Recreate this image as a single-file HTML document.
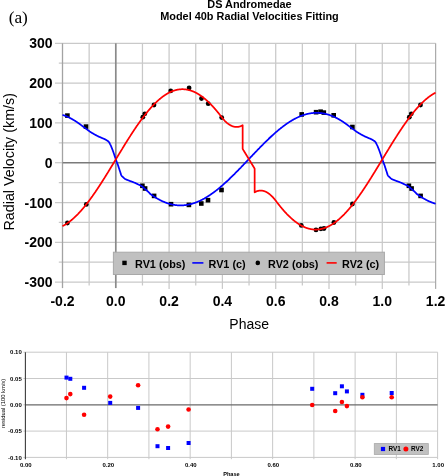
<!DOCTYPE html>
<html><head><meta charset="utf-8"><style>
html,body{margin:0;padding:0;background:#fff;}
svg{display:block;filter:blur(0.35px);}
text{font-family:"Liberation Sans",sans-serif;fill:#000;}
.tk{font-size:14px;font-weight:bold;}
.ax{font-size:14px;}
.ayt{font-size:14.3px;}
.ti{font-size:10.9px;font-weight:bold;}
.lg{font-size:10.85px;font-weight:bold;}
.pa{font-family:"Liberation Serif",serif;font-size:17.3px;}
.rt{font-size:6px;font-weight:bold;}
.rl{font-size:6.4px;font-weight:bold;}
.rax{font-size:5.6px;font-weight:bold;}
.ray{font-size:5.8px;}
</style></head><body>
<svg width="445" height="476" viewBox="0 0 445 476">
<rect width="445" height="476" fill="#fff"/>
<line x1="55.00" y1="282.10" x2="435.60" y2="282.10" stroke="#c9c9c9" stroke-width="1.25"/>
<line x1="58.80" y1="262.20" x2="435.60" y2="262.20" stroke="#c9c9c9" stroke-width="1.25"/>
<line x1="55.00" y1="242.30" x2="435.60" y2="242.30" stroke="#c9c9c9" stroke-width="1.25"/>
<line x1="58.80" y1="222.40" x2="435.60" y2="222.40" stroke="#c9c9c9" stroke-width="1.25"/>
<line x1="55.00" y1="202.50" x2="435.60" y2="202.50" stroke="#c9c9c9" stroke-width="1.25"/>
<line x1="58.80" y1="182.60" x2="435.60" y2="182.60" stroke="#c9c9c9" stroke-width="1.25"/>
<line x1="58.80" y1="142.80" x2="435.60" y2="142.80" stroke="#c9c9c9" stroke-width="1.25"/>
<line x1="55.00" y1="122.90" x2="435.60" y2="122.90" stroke="#c9c9c9" stroke-width="1.25"/>
<line x1="58.80" y1="103.00" x2="435.60" y2="103.00" stroke="#c9c9c9" stroke-width="1.25"/>
<line x1="55.00" y1="83.10" x2="435.60" y2="83.10" stroke="#c9c9c9" stroke-width="1.25"/>
<line x1="58.80" y1="63.20" x2="435.60" y2="63.20" stroke="#c9c9c9" stroke-width="1.25"/>
<line x1="55.00" y1="43.30" x2="435.60" y2="43.30" stroke="#c9c9c9" stroke-width="1.25"/>
<line x1="89.15" y1="43.30" x2="89.15" y2="285.50" stroke="#c9c9c9" stroke-width="1.25"/>
<line x1="142.45" y1="43.30" x2="142.45" y2="285.50" stroke="#c9c9c9" stroke-width="1.25"/>
<line x1="169.10" y1="43.30" x2="169.10" y2="288.90" stroke="#c9c9c9" stroke-width="1.25"/>
<line x1="195.75" y1="43.30" x2="195.75" y2="285.50" stroke="#c9c9c9" stroke-width="1.25"/>
<line x1="222.40" y1="43.30" x2="222.40" y2="288.90" stroke="#c9c9c9" stroke-width="1.25"/>
<line x1="249.05" y1="43.30" x2="249.05" y2="285.50" stroke="#c9c9c9" stroke-width="1.25"/>
<line x1="275.70" y1="43.30" x2="275.70" y2="288.90" stroke="#c9c9c9" stroke-width="1.25"/>
<line x1="302.35" y1="43.30" x2="302.35" y2="285.50" stroke="#c9c9c9" stroke-width="1.25"/>
<line x1="329.00" y1="43.30" x2="329.00" y2="288.90" stroke="#c9c9c9" stroke-width="1.25"/>
<line x1="355.65" y1="43.30" x2="355.65" y2="285.50" stroke="#c9c9c9" stroke-width="1.25"/>
<line x1="382.30" y1="43.30" x2="382.30" y2="288.90" stroke="#c9c9c9" stroke-width="1.25"/>
<line x1="408.95" y1="43.30" x2="408.95" y2="285.50" stroke="#c9c9c9" stroke-width="1.25"/>
<line x1="435.60" y1="43.30" x2="435.60" y2="288.90" stroke="#ababab" stroke-width="1.25"/>
<line x1="62.50" y1="43.30" x2="62.50" y2="288.10" stroke="#a3a3a3" stroke-width="1.3"/>
<line x1="55.00" y1="162.70" x2="62.50" y2="162.70" stroke="#c9c9c9" stroke-width="1.25"/>
<line x1="62.50" y1="162.70" x2="435.60" y2="162.70" stroke="#7a7a7a" stroke-width="1.5"/>
<line x1="115.80" y1="43.30" x2="115.80" y2="288.10" stroke="#8a8a8a" stroke-width="1.7"/>
<rect x="140.10" y="183.50" width="4.6" height="4.6" fill="#000"/>
<rect x="142.80" y="186.20" width="4.6" height="4.6" fill="#000"/>
<rect x="151.80" y="193.60" width="4.6" height="4.6" fill="#000"/>
<rect x="168.70" y="201.90" width="4.6" height="4.6" fill="#000"/>
<rect x="186.60" y="202.60" width="4.6" height="4.6" fill="#000"/>
<rect x="199.00" y="201.20" width="4.6" height="4.6" fill="#000"/>
<rect x="205.70" y="197.90" width="4.6" height="4.6" fill="#000"/>
<rect x="219.20" y="187.70" width="4.6" height="4.6" fill="#000"/>
<rect x="299.40" y="112.10" width="4.6" height="4.6" fill="#000"/>
<rect x="313.80" y="109.90" width="4.6" height="4.6" fill="#000"/>
<rect x="318.30" y="109.40" width="4.6" height="4.6" fill="#000"/>
<rect x="321.50" y="110.30" width="4.6" height="4.6" fill="#000"/>
<rect x="331.40" y="113.00" width="4.6" height="4.6" fill="#000"/>
<rect x="350.10" y="124.70" width="4.6" height="4.6" fill="#000"/>
<rect x="65.10" y="113.30" width="4.6" height="4.6" fill="#000"/>
<rect x="83.70" y="124.30" width="4.6" height="4.6" fill="#000"/>
<rect x="406.60" y="183.50" width="4.6" height="4.6" fill="#000"/>
<rect x="409.30" y="186.20" width="4.6" height="4.6" fill="#000"/>
<rect x="418.30" y="193.60" width="4.6" height="4.6" fill="#000"/>
<circle cx="142.80" cy="117.20" r="2.4" fill="#000"/>
<circle cx="144.80" cy="113.80" r="2.4" fill="#000"/>
<circle cx="154.00" cy="105.00" r="2.4" fill="#000"/>
<circle cx="170.70" cy="90.90" r="2.4" fill="#000"/>
<circle cx="189.10" cy="88.00" r="2.4" fill="#000"/>
<circle cx="201.50" cy="98.50" r="2.4" fill="#000"/>
<circle cx="208.20" cy="103.70" r="2.4" fill="#000"/>
<circle cx="221.70" cy="117.60" r="2.4" fill="#000"/>
<circle cx="301.30" cy="225.40" r="2.4" fill="#000"/>
<circle cx="316.00" cy="229.90" r="2.4" fill="#000"/>
<circle cx="320.90" cy="228.80" r="2.4" fill="#000"/>
<circle cx="324.00" cy="228.50" r="2.4" fill="#000"/>
<circle cx="333.90" cy="222.50" r="2.4" fill="#000"/>
<circle cx="352.40" cy="204.00" r="2.4" fill="#000"/>
<circle cx="67.40" cy="223.00" r="2.4" fill="#000"/>
<circle cx="86.30" cy="204.40" r="2.4" fill="#000"/>
<circle cx="409.30" cy="117.20" r="2.4" fill="#000"/>
<circle cx="411.30" cy="113.80" r="2.4" fill="#000"/>
<circle cx="420.50" cy="105.00" r="2.4" fill="#000"/>
<path d="M62.50,114.86L62.77,114.95L63.03,115.03L63.30,115.13L63.57,115.22L63.83,115.31L64.10,115.41L64.37,115.51L64.63,115.61L64.90,115.71L65.16,115.81L65.43,115.92L65.70,116.02L65.96,116.13L66.23,116.24L66.50,116.35L66.76,116.47L67.03,116.58L67.30,116.70L67.56,116.82L67.83,116.94L68.10,117.06L68.36,117.19L68.63,117.32L68.90,117.44L69.16,117.57L69.43,117.71L69.70,117.84L69.96,117.97L70.23,118.11L70.50,118.25L70.76,118.39L71.03,118.53L71.29,118.67L71.56,118.82L71.83,118.97L72.09,119.11L72.36,119.26L72.63,119.42L72.89,119.57L73.16,119.72L73.43,119.88L73.69,120.04L73.96,120.20L74.23,120.36L74.49,120.53L74.76,120.69L75.03,120.86L75.29,121.03L75.56,121.20L75.82,121.37L76.09,121.54L76.36,121.71L76.62,121.89L76.89,122.07L77.16,122.25L77.42,122.43L77.69,122.61L77.96,122.79L78.22,122.98L78.49,123.17L78.76,123.36L79.02,123.55L79.29,123.74L79.56,123.93L79.82,124.12L80.09,124.32L80.36,124.52L80.62,124.72L80.89,124.92L81.16,125.12L81.42,125.32L81.69,125.52L81.95,125.72L82.22,125.92L82.49,126.12L82.75,126.32L83.02,126.52L83.29,126.72L83.55,126.92L83.82,127.11L84.09,127.31L84.35,127.51L84.62,127.70L84.89,127.90L85.15,128.10L85.42,128.29L85.69,128.49L85.95,128.68L86.22,128.88L86.48,129.08L86.75,129.28L87.02,129.47L87.28,129.67L87.55,129.87L87.82,130.07L88.08,130.27L88.35,130.47L88.62,130.67L88.88,130.87L89.15,131.07L89.42,131.27L89.68,131.46L89.95,131.64L90.22,131.82L90.48,132.00L90.75,132.17L91.02,132.34L91.28,132.50L91.55,132.66L91.81,132.82L92.08,132.98L92.35,133.14L92.61,133.29L92.88,133.45L93.15,133.60L93.41,133.76L93.68,133.92L93.95,134.08L94.21,134.23L94.48,134.39L94.75,134.54L95.01,134.69L95.28,134.83L95.55,134.98L95.81,135.12L96.08,135.26L96.35,135.40L96.61,135.54L96.88,135.68L97.14,135.81L97.41,135.95L97.68,136.08L97.94,136.22L98.21,136.35L98.48,136.48L98.74,136.60L99.01,136.72L99.28,136.84L99.54,136.95L99.81,137.07L100.08,137.18L100.34,137.29L100.61,137.40L100.88,137.52L101.14,137.63L101.41,137.74L101.68,137.86L101.94,137.98L102.21,138.10L102.47,138.22L102.74,138.33L103.01,138.44L103.27,138.55L103.54,138.66L103.81,138.77L104.07,138.88L104.34,139.00L104.61,139.12L104.87,139.25L105.14,139.38L105.41,139.52L105.67,139.67L105.94,139.83L106.21,140.00L106.47,140.16L106.74,140.32L107.01,140.48L107.27,140.64L107.54,140.82L107.80,141.01L108.07,141.21L108.34,141.44L108.60,141.70L108.87,141.99L109.14,142.36L109.40,142.79L109.67,143.28L109.94,143.81L110.20,144.35L110.47,144.88L110.74,145.43L111.00,146.02L111.27,146.64L111.54,147.29L111.80,147.95L112.07,148.64L112.34,149.32L112.60,150.02L112.87,150.73L113.13,151.47L113.40,152.23L113.67,153.00L113.93,153.79L114.20,154.58L114.47,155.38L114.73,156.18L115.00,156.98L115.27,157.78L115.53,158.56L115.80,159.33L116.07,160.08L116.33,160.81L116.60,161.52L116.87,162.23L117.13,162.93L117.40,163.63L117.67,164.34L117.93,165.07L118.20,165.83L118.46,166.62L118.73,167.43L119.00,168.25L119.26,169.08L119.53,169.91L119.80,170.73L120.06,171.52L120.33,172.35L120.60,173.26L120.86,174.13L121.13,174.90L121.40,175.46L121.66,175.78L121.93,176.07L122.20,176.35L122.46,176.62L122.73,176.89L123.00,177.16L123.26,177.42L123.53,177.68L123.80,177.93L124.06,178.18L124.33,178.43L124.59,178.65L124.86,178.84L125.13,179.01L125.39,179.17L125.66,179.30L125.93,179.42L126.19,179.53L126.46,179.63L126.73,179.73L126.99,179.82L127.26,179.91L127.53,180.01L127.79,180.11L128.06,180.22L128.33,180.33L128.59,180.45L128.86,180.56L129.12,180.66L129.39,180.76L129.66,180.86L129.92,180.96L130.19,181.06L130.46,181.15L130.72,181.24L130.99,181.34L131.26,181.43L131.52,181.52L131.79,181.61L132.06,181.71L132.32,181.81L132.59,181.91L132.86,182.01L133.12,182.11L133.39,182.22L133.66,182.33L133.92,182.45L134.19,182.56L134.45,182.68L134.72,182.80L134.99,182.91L135.25,183.03L135.52,183.15L135.79,183.27L136.05,183.40L136.32,183.52L136.59,183.65L136.85,183.78L137.12,183.91L137.39,184.04L137.65,184.18L137.92,184.31L138.19,184.44L138.45,184.56L138.72,184.68L138.99,184.79L139.25,184.91L139.52,185.02L139.78,185.14L140.05,185.26L140.32,185.38L140.58,185.52L140.85,185.66L141.12,185.81L141.38,185.97L141.65,186.15L141.92,186.34L142.18,186.54L142.45,186.77L142.72,187.00L142.98,187.24L143.25,187.47L143.52,187.70L143.78,187.93L144.05,188.16L144.32,188.39L144.58,188.62L144.85,188.85L145.12,189.08L145.38,189.32L145.65,189.55L145.91,189.78L146.18,190.02L146.45,190.25L146.71,190.49L146.98,190.73L147.25,190.97L147.51,191.21L147.78,191.46L148.05,191.71L148.31,191.96L148.58,192.21L148.85,192.47L149.11,192.73L149.38,192.99L149.65,193.25L149.91,193.52L150.18,193.80L150.44,194.08L150.71,194.27L150.98,194.46L151.24,194.65L151.51,194.84L151.78,195.03L152.04,195.21L152.31,195.40L152.58,195.58L152.84,195.76L153.11,195.94L153.38,196.12L153.64,196.30L153.91,196.47L154.18,196.65L154.44,196.82L154.71,196.99L154.98,197.16L155.24,197.33L155.51,197.49L155.77,197.66L156.04,197.82L156.31,197.98L156.57,198.14L156.84,198.30L157.11,198.45L157.37,198.61L157.64,198.76L157.91,198.91L158.17,199.06L158.44,199.21L158.71,199.36L158.97,199.50L159.24,199.64L159.51,199.79L159.77,199.93L160.04,200.06L160.31,200.20L160.57,200.34L160.84,200.47L161.10,200.60L161.37,200.73L161.64,200.86L161.90,200.98L162.17,201.11L162.44,201.23L162.70,201.35L162.97,201.47L163.24,201.59L163.50,201.70L163.77,201.82L164.04,201.93L164.30,202.04L164.57,202.15L164.84,202.26L165.10,202.36L165.37,202.47L165.64,202.57L165.90,202.67L166.17,202.77L166.44,202.86L166.70,202.96L166.97,203.05L167.23,203.14L167.50,203.23L167.77,203.32L168.03,203.41L168.30,203.49L168.57,203.57L168.83,203.65L169.10,203.73L169.37,203.81L169.63,203.88L169.90,203.96L170.17,204.03L170.43,204.10L170.70,204.17L170.97,204.23L171.23,204.30L171.50,204.36L171.76,204.42L172.03,204.48L172.30,204.54L172.56,204.59L172.83,204.65L173.10,204.70L173.36,204.75L173.63,204.79L173.90,204.84L174.16,204.89L174.43,204.93L174.70,204.97L174.96,205.01L175.23,205.04L175.50,205.08L175.76,205.11L176.03,205.15L176.30,205.17L176.56,205.20L176.83,205.23L177.09,205.25L177.36,205.28L177.63,205.30L177.89,205.32L178.16,205.33L178.43,205.35L178.69,205.36L178.96,205.37L179.23,205.38L179.49,205.39L179.76,205.40L180.03,205.40L180.29,205.40L180.56,205.40L180.83,205.40L181.09,205.40L181.36,205.40L181.63,205.39L181.89,205.38L182.16,205.37L182.43,205.36L182.69,205.35L182.96,205.33L183.22,205.31L183.49,205.29L183.76,205.27L184.02,205.25L184.29,205.22L184.56,205.20L184.82,205.17L185.09,205.14L185.36,205.11L185.62,205.08L185.89,205.04L186.16,205.00L186.42,204.96L186.69,204.92L186.96,204.88L187.22,204.84L187.49,204.79L187.75,204.74L188.02,204.69L188.29,204.64L188.55,204.59L188.82,204.54L189.09,204.48L189.35,204.42L189.62,204.36L189.89,204.30L190.15,204.24L190.42,204.17L190.69,204.11L190.95,204.04L191.22,203.97L191.49,203.89L191.75,203.82L192.02,203.75L192.29,203.67L192.55,203.59L192.82,203.51L193.08,203.43L193.35,203.34L193.62,203.26L193.88,203.17L194.15,203.08L194.42,202.99L194.68,202.90L194.95,202.81L195.22,202.71L195.48,202.61L195.75,202.51L196.02,202.41L196.28,202.31L196.55,202.21L196.82,202.10L197.08,202.00L197.35,201.89L197.62,201.78L197.88,201.67L198.15,201.55L198.41,201.44L198.68,201.32L198.95,201.20L199.21,201.08L199.48,200.96L199.75,200.84L200.01,200.71L200.28,200.59L200.55,200.46L200.81,200.33L201.08,200.20L201.35,200.07L201.61,199.94L201.88,199.80L202.15,199.66L202.41,199.53L202.68,199.39L202.95,199.24L203.21,199.10L203.48,198.96L203.75,198.81L204.01,198.66L204.28,198.52L204.54,198.37L204.81,198.21L205.08,198.06L205.34,197.91L205.61,197.75L205.88,197.59L206.14,197.44L206.41,197.27L206.68,197.11L206.94,196.95L207.21,196.79L207.48,196.62L207.74,196.45L208.01,196.28L208.28,196.11L208.54,195.94L208.81,195.77L209.07,195.60L209.34,195.42L209.61,195.24L209.87,195.07L210.14,194.89L210.41,194.71L210.67,194.52L210.94,194.34L211.21,194.16L211.47,193.97L211.74,193.78L212.01,193.60L212.27,193.41L212.54,193.22L212.81,193.02L213.07,192.83L213.34,192.64L213.61,192.44L213.87,192.24L214.14,192.04L214.40,191.84L214.67,191.64L214.94,191.44L215.20,191.24L215.47,191.04L215.74,190.83L216.00,190.62L216.27,190.42L216.54,190.21L216.80,190.00L217.07,189.79L217.34,189.57L217.60,189.36L217.87,189.15L218.14,188.93L218.40,188.71L218.67,188.50L218.94,188.28L219.20,188.06L219.47,187.84L219.73,187.62L220.00,187.39L220.27,187.17L220.53,186.94L220.80,186.72L221.07,186.49L221.33,186.26L221.60,186.03L221.87,185.80L222.13,185.57L222.40,185.34L222.67,185.11L222.93,184.87L223.20,184.64L223.47,184.40L223.73,184.17L224.00,183.93L224.27,183.69L224.53,183.45L224.80,183.21L225.06,182.97L225.33,182.73L225.60,182.49L225.86,182.24L226.13,182.00L226.40,181.76L226.66,181.51L226.93,181.26L227.20,181.02L227.46,180.77L227.73,180.52L228.00,180.27L228.26,180.02L228.53,179.77L228.80,179.51L229.06,179.26L229.33,179.01L229.60,178.75L229.86,178.50L230.13,178.24L230.39,177.99L230.66,177.73L230.93,177.47L231.19,177.21L231.46,176.95L231.73,176.69L231.99,176.43L232.26,176.17L232.53,175.91L232.79,175.65L233.06,175.39L233.33,175.12L233.59,174.86L233.86,174.59L234.13,174.33L234.39,174.06L234.66,173.80L234.93,173.53L235.19,173.26L235.46,172.99L235.72,172.73L235.99,172.46L236.26,172.19L236.52,171.92L236.79,171.65L237.06,171.38L237.32,171.11L237.59,170.84L237.86,170.56L238.12,170.29L238.39,170.02L238.66,169.74L238.92,169.47L239.19,169.20L239.46,168.92L239.72,168.65L239.99,168.37L240.26,168.10L240.52,167.82L240.79,167.55L241.05,167.27L241.32,166.99L241.59,166.72L241.85,166.44L242.12,166.16L242.39,165.88L242.65,165.61L242.92,165.33L243.19,165.05L243.45,164.77L243.72,164.49L243.99,164.21L244.25,163.93L244.52,163.65L244.79,163.38L245.05,163.10L245.32,162.82L245.59,162.54L245.85,162.26L246.12,161.98L246.38,161.69L246.65,161.41L246.92,161.13L247.18,160.85L247.45,160.57L247.72,160.29L247.98,160.01L248.25,159.73L248.52,159.45L248.78,159.17L249.05,158.89L249.32,158.61L249.58,158.32L249.85,158.04L250.12,157.76L250.38,157.48L250.65,157.20L250.92,156.92L251.18,156.64L251.45,156.36L251.71,156.08L251.98,155.80L252.25,155.52L252.51,155.24L252.78,154.96L253.05,154.68L253.31,154.40L253.58,154.12L253.85,153.84L254.11,153.56L254.38,153.28L254.65,153.00L254.91,152.72L255.18,152.44L255.45,152.17L255.71,151.89L255.98,151.61L256.25,151.33L256.51,151.05L256.78,150.78L257.04,150.50L257.31,150.22L257.58,149.95L257.84,149.67L258.11,149.40L258.38,149.12L258.64,148.85L258.91,148.57L259.18,148.30L259.44,148.02L259.71,147.75L259.98,147.48L260.24,147.21L260.51,146.93L260.78,146.66L261.04,146.39L261.31,146.12L261.58,145.85L261.84,145.58L262.11,145.31L262.38,145.04L262.64,144.77L262.91,144.51L263.17,144.24L263.44,143.97L263.71,143.70L263.97,143.44L264.24,143.17L264.51,142.91L264.77,142.64L265.04,142.38L265.31,142.12L265.57,141.86L265.84,141.59L266.11,141.33L266.37,141.07L266.64,140.81L266.91,140.55L267.17,140.29L267.44,140.04L267.71,139.78L267.97,139.52L268.24,139.27L268.50,139.01L268.77,138.76L269.04,138.50L269.30,138.25L269.57,138.00L269.84,137.75L270.10,137.50L270.37,137.25L270.64,137.00L270.90,136.75L271.17,136.50L271.44,136.26L271.70,136.01L271.97,135.76L272.24,135.52L272.50,135.28L272.77,135.03L273.04,134.79L273.30,134.55L273.57,134.31L273.83,134.07L274.10,133.84L274.37,133.60L274.63,133.36L274.90,133.13L275.17,132.89L275.43,132.66L275.70,132.43L275.97,132.19L276.23,131.96L276.50,131.73L276.77,131.51L277.03,131.28L277.30,131.05L277.57,130.83L277.83,130.60L278.10,130.38L278.37,130.16L278.63,129.94L278.90,129.71L279.16,129.50L279.43,129.28L279.70,129.06L279.96,128.84L280.23,128.63L280.50,128.42L280.76,128.20L281.03,127.99L281.30,127.78L281.56,127.57L281.83,127.36L282.10,127.16L282.36,126.95L282.63,126.75L282.90,126.54L283.16,126.34L283.43,126.14L283.69,125.94L283.96,125.74L284.23,125.55L284.49,125.35L284.76,125.16L285.03,124.96L285.29,124.77L285.56,124.58L285.83,124.39L286.09,124.20L286.36,124.01L286.63,123.83L286.89,123.64L287.16,123.46L287.43,123.28L287.69,123.10L287.96,122.92L288.23,122.74L288.49,122.57L288.76,122.39L289.02,122.22L289.29,122.05L289.56,121.87L289.82,121.71L290.09,121.54L290.36,121.37L290.62,121.21L290.89,121.04L291.16,120.88L291.42,120.72L291.69,120.56L291.96,120.40L292.22,120.24L292.49,120.09L292.76,119.94L293.02,119.78L293.29,119.63L293.56,119.48L293.82,119.34L294.09,119.19L294.35,119.05L294.62,118.90L294.89,118.76L295.15,118.62L295.42,118.48L295.69,118.35L295.95,118.21L296.22,118.08L296.49,117.94L296.75,117.81L297.02,117.68L297.29,117.56L297.55,117.43L297.82,117.31L298.09,117.18L298.35,117.06L298.62,116.94L298.89,116.82L299.15,116.71L299.42,116.59L299.69,116.48L299.95,116.37L300.22,116.26L300.48,116.15L300.75,116.04L301.02,115.94L301.28,115.84L301.55,115.73L301.82,115.64L302.08,115.54L302.35,115.44L302.62,115.35L302.88,115.25L303.15,115.16L303.42,115.07L303.68,114.98L303.95,114.90L304.22,114.81L304.48,114.73L304.75,114.65L305.01,114.57L305.28,114.49L305.55,114.42L305.81,114.34L306.08,114.27L306.35,114.20L306.61,114.13L306.88,114.06L307.15,114.00L307.41,113.93L307.68,113.87L307.95,113.81L308.21,113.75L308.48,113.70L308.75,113.64L309.01,113.59L309.28,113.54L309.55,113.49L309.81,113.44L310.08,113.40L310.34,113.35L310.61,113.31L310.88,113.27L311.14,113.23L311.41,113.20L311.68,113.16L311.94,113.13L312.21,113.10L312.48,113.07L312.74,113.04L313.01,113.01L313.28,112.99L313.54,112.97L313.81,112.95L314.08,112.93L314.34,112.91L314.61,112.90L314.88,112.89L315.14,112.87L315.41,112.87L315.68,112.86L315.94,112.85L316.21,112.85L316.47,112.85L316.74,112.85L317.01,112.85L317.27,112.85L317.54,112.86L317.81,112.87L318.07,112.88L318.34,112.89L318.61,112.90L318.87,112.91L319.14,112.93L319.41,112.95L319.67,112.97L319.94,112.99L320.21,113.02L320.47,113.04L320.74,113.07L321.00,113.10L321.27,113.13L321.54,113.17L321.80,113.20L322.07,113.24L322.34,113.28L322.60,113.32L322.87,113.36L323.14,113.41L323.40,113.45L323.67,113.50L323.94,113.55L324.20,113.60L324.47,113.66L324.74,113.71L325.00,113.77L325.27,113.83L325.54,113.89L325.80,113.96L326.07,114.02L326.33,114.09L326.60,114.16L326.87,114.23L327.13,114.30L327.40,114.37L327.67,114.45L327.93,114.53L328.20,114.61L328.47,114.69L328.73,114.77L329.00,114.86L329.27,114.95L329.53,115.03L329.80,115.13L330.07,115.22L330.33,115.31L330.60,115.41L330.87,115.51L331.13,115.61L331.40,115.71L331.67,115.81L331.93,115.92L332.20,116.02L332.46,116.13L332.73,116.24L333.00,116.35L333.26,116.47L333.53,116.58L333.80,116.70L334.06,116.82L334.33,116.94L334.60,117.06L334.86,117.19L335.13,117.32L335.40,117.44L335.66,117.57L335.93,117.71L336.20,117.84L336.46,117.97L336.73,118.11L337.00,118.25L337.26,118.39L337.53,118.53L337.79,118.67L338.06,118.82L338.33,118.97L338.59,119.11L338.86,119.26L339.13,119.42L339.39,119.57L339.66,119.72L339.93,119.88L340.19,120.04L340.46,120.20L340.73,120.36L340.99,120.53L341.26,120.69L341.53,120.86L341.79,121.03L342.06,121.20L342.33,121.37L342.59,121.54L342.86,121.71L343.12,121.89L343.39,122.07L343.66,122.25L343.92,122.43L344.19,122.61L344.46,122.79L344.72,122.98L344.99,123.17L345.26,123.36L345.52,123.55L345.79,123.74L346.06,123.93L346.32,124.12L346.59,124.32L346.86,124.52L347.12,124.72L347.39,124.92L347.66,125.12L347.92,125.32L348.19,125.52L348.45,125.72L348.72,125.92L348.99,126.12L349.25,126.32L349.52,126.52L349.79,126.72L350.05,126.92L350.32,127.11L350.59,127.31L350.85,127.51L351.12,127.70L351.39,127.90L351.65,128.10L351.92,128.29L352.19,128.49L352.45,128.68L352.72,128.88L352.99,129.08L353.25,129.28L353.52,129.47L353.78,129.67L354.05,129.87L354.32,130.07L354.58,130.27L354.85,130.47L355.12,130.67L355.38,130.87L355.65,131.07L355.92,131.27L356.18,131.46L356.45,131.64L356.72,131.82L356.98,132.00L357.25,132.17L357.52,132.34L357.78,132.50L358.05,132.66L358.32,132.82L358.58,132.98L358.85,133.14L359.11,133.29L359.38,133.45L359.65,133.60L359.91,133.76L360.18,133.92L360.45,134.08L360.71,134.23L360.98,134.39L361.25,134.54L361.51,134.69L361.78,134.83L362.05,134.98L362.31,135.12L362.58,135.26L362.85,135.40L363.11,135.54L363.38,135.68L363.64,135.81L363.91,135.95L364.18,136.08L364.44,136.22L364.71,136.35L364.98,136.48L365.24,136.60L365.51,136.72L365.78,136.84L366.04,136.95L366.31,137.07L366.58,137.18L366.84,137.29L367.11,137.40L367.38,137.52L367.64,137.63L367.91,137.74L368.18,137.86L368.44,137.98L368.71,138.10L368.97,138.22L369.24,138.33L369.51,138.44L369.77,138.55L370.04,138.66L370.31,138.77L370.57,138.88L370.84,139.00L371.11,139.12L371.37,139.25L371.64,139.38L371.91,139.52L372.17,139.67L372.44,139.83L372.71,140.00L372.97,140.16L373.24,140.32L373.51,140.48L373.77,140.64L374.04,140.82L374.31,141.01L374.57,141.21L374.84,141.44L375.10,141.70L375.37,141.99L375.64,142.36L375.90,142.79L376.17,143.28L376.44,143.81L376.70,144.35L376.97,144.88L377.24,145.43L377.50,146.02L377.77,146.64L378.04,147.29L378.30,147.95L378.57,148.64L378.84,149.32L379.10,150.02L379.37,150.73L379.63,151.47L379.90,152.23L380.17,153.00L380.43,153.79L380.70,154.58L380.97,155.38L381.23,156.18L381.50,156.98L381.77,157.78L382.03,158.56L382.30,159.33L382.57,160.08L382.83,160.81L383.10,161.52L383.37,162.23L383.63,162.93L383.90,163.63L384.17,164.34L384.43,165.07L384.70,165.83L384.97,166.62L385.23,167.43L385.50,168.25L385.76,169.08L386.03,169.91L386.30,170.73L386.56,171.52L386.83,172.35L387.10,173.26L387.36,174.13L387.63,174.90L387.90,175.46L388.16,175.78L388.43,176.07L388.70,176.35L388.96,176.62L389.23,176.89L389.50,177.16L389.76,177.42L390.03,177.68L390.30,177.93L390.56,178.18L390.83,178.43L391.09,178.65L391.36,178.84L391.63,179.01L391.89,179.17L392.16,179.30L392.43,179.42L392.69,179.53L392.96,179.63L393.23,179.73L393.49,179.82L393.76,179.91L394.03,180.01L394.29,180.11L394.56,180.22L394.83,180.33L395.09,180.45L395.36,180.56L395.62,180.66L395.89,180.76L396.16,180.86L396.42,180.96L396.69,181.06L396.96,181.15L397.22,181.24L397.49,181.34L397.76,181.43L398.02,181.52L398.29,181.61L398.56,181.71L398.82,181.81L399.09,181.91L399.36,182.01L399.62,182.11L399.89,182.22L400.16,182.33L400.42,182.45L400.69,182.56L400.96,182.68L401.22,182.80L401.49,182.91L401.75,183.03L402.02,183.15L402.29,183.27L402.55,183.40L402.82,183.52L403.09,183.65L403.35,183.78L403.62,183.91L403.89,184.04L404.15,184.18L404.42,184.31L404.69,184.44L404.95,184.56L405.22,184.68L405.49,184.79L405.75,184.91L406.02,185.02L406.28,185.14L406.55,185.26L406.82,185.38L407.08,185.52L407.35,185.66L407.62,185.81L407.88,185.97L408.15,186.15L408.42,186.34L408.68,186.54L408.95,186.77L409.22,187.00L409.48,187.24L409.75,187.47L410.02,187.70L410.28,187.93L410.55,188.16L410.82,188.39L411.08,188.62L411.35,188.85L411.61,189.08L411.88,189.32L412.15,189.55L412.41,189.78L412.68,190.02L412.95,190.25L413.21,190.49L413.48,190.73L413.75,190.97L414.01,191.21L414.28,191.46L414.55,191.71L414.81,191.96L415.08,192.21L415.35,192.47L415.61,192.73L415.88,192.99L416.15,193.25L416.41,193.52L416.68,193.80L416.94,194.08L417.21,194.27L417.48,194.46L417.74,194.65L418.01,194.84L418.28,195.03L418.54,195.21L418.81,195.40L419.08,195.58L419.34,195.76L419.61,195.94L419.88,196.12L420.14,196.30L420.41,196.47L420.68,196.65L420.94,196.82L421.21,196.99L421.48,197.16L421.74,197.33L422.01,197.49L422.27,197.66L422.54,197.82L422.81,197.98L423.07,198.14L423.34,198.30L423.61,198.45L423.87,198.61L424.14,198.76L424.41,198.91L424.67,199.06L424.94,199.21L425.21,199.36L425.47,199.50L425.74,199.64L426.01,199.79L426.27,199.93L426.54,200.06L426.81,200.20L427.07,200.34L427.34,200.47L427.61,200.60L427.87,200.73L428.14,200.86L428.40,200.98L428.67,201.11L428.94,201.23L429.20,201.35L429.47,201.47L429.74,201.59L430.00,201.70L430.27,201.82L430.54,201.93L430.80,202.04L431.07,202.15L431.34,202.26L431.60,202.36L431.87,202.47L432.14,202.57L432.40,202.67L432.67,202.77L432.94,202.86L433.20,202.96L433.47,203.05L433.73,203.14L434.00,203.23L434.27,203.32L434.53,203.41L434.80,203.49L435.07,203.57L435.33,203.65L435.60,203.73" fill="none" stroke="#0000ff" stroke-width="1.75" stroke-linejoin="round"/>
<path d="M62.50,226.13L62.77,225.99L63.03,225.85L63.30,225.71L63.57,225.56L63.83,225.42L64.10,225.27L64.37,225.11L64.63,224.96L64.90,224.80L65.16,224.64L65.43,224.47L65.70,224.31L65.96,224.14L66.23,223.97L66.50,223.79L66.76,223.62L67.03,223.44L67.30,223.26L67.56,223.07L67.83,222.89L68.10,222.70L68.36,222.51L68.63,222.31L68.90,222.12L69.16,221.92L69.43,221.71L69.70,221.51L69.96,221.30L70.23,221.10L70.50,220.88L70.76,220.67L71.03,220.46L71.29,220.24L71.56,220.02L71.83,219.79L72.09,219.57L72.36,219.34L72.63,219.11L72.89,218.88L73.16,218.64L73.43,218.40L73.69,218.16L73.96,217.92L74.23,217.68L74.49,217.43L74.76,217.18L75.03,216.93L75.29,216.68L75.56,216.42L75.82,216.16L76.09,215.90L76.36,215.64L76.62,215.38L76.89,215.11L77.16,214.84L77.42,214.57L77.69,214.29L77.96,214.02L78.22,213.74L78.49,213.46L78.76,213.18L79.02,212.90L79.29,212.61L79.56,212.32L79.82,212.03L80.09,211.74L80.36,211.44L80.62,211.15L80.89,210.85L81.16,210.55L81.42,210.24L81.69,209.94L81.95,209.63L82.22,209.32L82.49,209.01L82.75,208.70L83.02,208.39L83.29,208.07L83.55,207.75L83.82,207.43L84.09,207.11L84.35,206.78L84.62,206.46L84.89,206.13L85.15,205.80L85.42,205.47L85.69,205.13L85.95,204.80L86.22,204.46L86.48,204.12L86.75,203.78L87.02,203.44L87.28,203.10L87.55,202.75L87.82,202.40L88.08,202.05L88.35,201.70L88.62,201.35L88.88,201.00L89.15,200.64L89.42,200.28L89.68,199.92L89.95,199.56L90.22,199.20L90.48,198.84L90.75,198.47L91.02,198.10L91.28,197.74L91.55,197.37L91.81,196.99L92.08,196.62L92.35,196.25L92.61,195.87L92.88,195.49L93.15,195.11L93.41,194.73L93.68,194.35L93.95,193.97L94.21,193.59L94.48,193.20L94.75,192.81L95.01,192.42L95.28,192.04L95.55,191.64L95.81,191.25L96.08,190.86L96.35,190.46L96.61,190.07L96.88,189.67L97.14,189.27L97.41,188.87L97.68,188.47L97.94,188.07L98.21,187.67L98.48,187.26L98.74,186.86L99.01,186.45L99.28,186.04L99.54,185.64L99.81,185.23L100.08,184.82L100.34,184.41L100.61,183.99L100.88,183.58L101.14,183.16L101.41,182.75L101.68,182.33L101.94,181.92L102.21,181.50L102.47,181.08L102.74,180.66L103.01,180.24L103.27,179.82L103.54,179.40L103.81,178.97L104.07,178.55L104.34,178.12L104.61,177.70L104.87,177.27L105.14,176.85L105.41,176.42L105.67,175.99L105.94,175.56L106.21,175.13L106.47,174.70L106.74,174.27L107.01,173.84L107.27,173.41L107.54,172.98L107.80,172.54L108.07,172.11L108.34,171.68L108.60,171.24L108.87,170.81L109.14,170.37L109.40,169.94L109.67,169.50L109.94,169.06L110.20,168.63L110.47,168.19L110.74,167.75L111.00,167.32L111.27,166.88L111.54,166.44L111.80,166.00L112.07,165.56L112.34,165.12L112.60,164.68L112.87,164.24L113.13,163.80L113.40,163.36L113.67,162.92L113.93,162.48L114.20,162.04L114.47,161.60L114.73,161.16L115.00,160.72L115.27,160.28L115.53,159.84L115.80,159.40L116.07,158.96L116.33,158.51L116.60,158.07L116.87,157.63L117.13,157.19L117.40,156.75L117.67,156.31L117.93,155.87L118.20,155.43L118.46,154.99L118.73,154.55L119.00,154.11L119.26,153.67L119.53,153.23L119.80,152.79L120.06,152.35L120.33,151.92L120.60,151.48L120.86,151.04L121.13,150.60L121.40,150.17L121.66,149.73L121.93,149.29L122.20,148.86L122.46,148.42L122.73,147.98L123.00,147.55L123.26,147.12L123.53,146.68L123.80,146.25L124.06,145.82L124.33,145.38L124.59,144.95L124.86,144.52L125.13,144.09L125.39,143.66L125.66,143.23L125.93,142.80L126.19,142.37L126.46,141.95L126.73,141.52L126.99,141.09L127.26,140.67L127.53,140.24L127.79,139.82L128.06,139.40L128.33,138.98L128.59,138.55L128.86,138.13L129.12,137.71L129.39,137.29L129.66,136.88L129.92,136.46L130.19,136.04L130.46,135.63L130.72,135.21L130.99,134.80L131.26,134.39L131.52,133.98L131.79,133.57L132.06,133.16L132.32,132.75L132.59,132.34L132.86,131.93L133.12,131.53L133.39,131.13L133.66,130.72L133.92,130.32L134.19,129.92L134.45,129.52L134.72,129.12L134.99,128.73L135.25,128.33L135.52,127.93L135.79,127.54L136.05,127.15L136.32,126.76L136.59,126.37L136.85,125.98L137.12,125.59L137.39,125.21L137.65,124.82L137.92,124.44L138.19,124.06L138.45,123.68L138.72,123.30L138.99,122.92L139.25,122.55L139.52,122.17L139.78,121.80L140.05,121.43L140.32,121.06L140.58,120.69L140.85,120.32L141.12,119.96L141.38,119.59L141.65,119.23L141.92,118.87L142.18,118.51L142.45,118.15L142.72,117.80L142.98,117.44L143.25,117.09L143.52,116.74L143.78,116.39L144.05,116.04L144.32,115.70L144.58,115.35L144.85,115.01L145.12,114.67L145.38,114.33L145.65,113.99L145.91,113.66L146.18,113.33L146.45,112.99L146.71,112.66L146.98,112.34L147.25,112.01L147.51,111.69L147.78,111.36L148.05,111.04L148.31,110.72L148.58,110.41L148.85,110.09L149.11,109.78L149.38,109.47L149.65,109.16L149.91,108.85L150.18,108.55L150.44,108.25L150.71,107.95L150.98,107.65L151.24,107.35L151.51,107.06L151.78,106.76L152.04,106.47L152.31,106.18L152.58,105.90L152.84,105.61L153.11,105.33L153.38,105.05L153.64,104.77L153.91,104.50L154.18,104.22L154.44,103.95L154.71,103.68L154.98,103.42L155.24,103.15L155.51,102.89L155.77,102.63L156.04,102.37L156.31,102.12L156.57,101.86L156.84,101.61L157.11,101.36L157.37,101.12L157.64,100.87L157.91,100.63L158.17,100.39L158.44,100.15L158.71,99.92L158.97,99.68L159.24,99.45L159.51,99.23L159.77,99.00L160.04,98.78L160.31,98.56L160.57,98.34L160.84,98.12L161.10,97.91L161.37,97.70L161.64,97.49L161.90,97.28L162.17,97.08L162.44,96.88L162.70,96.68L162.97,96.48L163.24,96.29L163.50,96.10L163.77,95.91L164.04,95.72L164.30,95.54L164.57,95.36L164.84,95.18L165.10,95.00L165.37,94.83L165.64,94.66L165.90,94.49L166.17,94.32L166.44,94.16L166.70,94.00L166.97,93.84L167.23,93.68L167.50,93.53L167.77,93.38L168.03,93.23L168.30,93.08L168.57,92.94L168.83,92.80L169.10,92.66L169.37,92.53L169.63,92.40L169.90,92.27L170.17,92.14L170.43,92.02L170.70,91.89L170.97,91.77L171.23,91.66L171.50,91.54L171.76,91.43L172.03,91.33L172.30,91.22L172.56,91.12L172.83,91.02L173.10,90.92L173.36,90.82L173.63,90.73L173.90,90.64L174.16,90.56L174.43,90.47L174.70,90.39L174.96,90.31L175.23,90.24L175.50,90.16L175.76,90.09L176.03,90.03L176.30,89.96L176.56,89.90L176.83,89.84L177.09,89.78L177.36,89.73L177.63,89.68L177.89,89.63L178.16,89.58L178.43,89.54L178.69,89.50L178.96,89.46L179.23,89.43L179.49,89.40L179.76,89.37L180.03,89.34L180.29,89.32L180.56,89.30L180.83,89.28L181.09,89.26L181.36,89.25L181.63,89.24L181.89,89.23L182.16,89.23L182.43,89.23L182.69,89.23L182.96,89.23L183.22,89.24L183.49,89.25L183.76,89.26L184.02,89.28L184.29,89.30L184.56,89.32L184.82,89.34L185.09,89.37L185.36,89.40L185.62,89.43L185.89,89.46L186.16,89.50L186.42,89.54L186.69,89.58L186.96,89.63L187.22,89.68L187.49,89.73L187.75,89.78L188.02,89.84L188.29,89.90L188.55,89.96L188.82,90.03L189.09,90.09L189.35,90.16L189.62,90.24L189.89,90.31L190.15,90.39L190.42,90.47L190.69,90.56L190.95,90.64L191.22,90.73L191.49,90.82L191.75,90.92L192.02,91.02L192.29,91.12L192.55,91.22L192.82,91.33L193.08,91.43L193.35,91.54L193.62,91.66L193.88,91.77L194.15,91.89L194.42,92.02L194.68,92.14L194.95,92.27L195.22,92.40L195.48,92.53L195.75,92.66L196.02,92.80L196.28,92.94L196.55,93.08L196.82,93.23L197.08,93.38L197.35,93.53L197.62,93.68L197.88,93.84L198.15,94.00L198.41,94.16L198.68,94.32L198.95,94.49L199.21,94.66L199.48,94.83L199.75,95.00L200.01,95.18L200.28,95.36L200.55,95.54L200.81,95.72L201.08,95.91L201.35,96.10L201.61,96.29L201.88,96.48L202.15,96.68L202.41,96.88L202.68,97.08L202.95,97.28L203.21,97.49L203.48,97.70L203.75,97.91L204.01,98.12L204.28,98.34L204.54,98.56L204.81,98.78L205.08,99.00L205.34,99.23L205.61,99.45L205.88,99.68L206.14,99.92L206.41,100.15L206.68,100.39L206.94,100.63L207.21,100.87L207.48,101.12L207.74,101.36L208.01,101.61L208.28,101.86L208.54,102.12L208.81,102.37L209.07,102.63L209.34,102.89L209.61,103.15L209.87,103.42L210.14,103.68L210.41,103.95L210.67,104.22L210.94,104.50L211.21,104.77L211.47,105.05L211.74,105.33L212.01,105.61L212.27,105.90L212.54,106.18L212.81,106.47L213.07,106.76L213.34,107.06L213.61,107.35L213.87,107.65L214.14,107.95L214.40,108.25L214.67,108.55L214.94,108.85L215.20,109.16L215.47,109.47L215.74,109.78L216.00,110.09L216.27,110.41L216.54,110.72L216.80,111.04L217.07,111.36L217.34,111.69L217.60,112.01L217.87,112.34L218.14,112.66L218.40,112.99L218.67,113.33L218.94,113.66L219.20,113.99L219.47,114.33L219.73,114.67L220.00,115.01L220.27,115.35L220.53,115.70L220.80,116.04L221.07,116.39L221.33,116.74L221.60,117.09L221.87,117.43L222.13,117.76L222.40,118.09L222.67,118.42L222.93,118.74L223.20,119.05L223.47,119.36L223.73,119.66L224.00,119.95L224.27,120.24L224.53,120.53L224.80,120.80L225.06,121.08L225.33,121.34L225.60,121.60L225.86,121.85L226.13,122.10L226.40,122.34L226.66,122.58L226.93,122.81L227.20,123.04L227.46,123.25L227.73,123.47L228.00,123.67L228.26,123.87L228.53,124.07L228.80,124.25L229.06,124.43L229.33,124.61L229.60,124.78L229.86,124.94L230.13,125.10L230.39,125.25L230.66,125.40L230.93,125.53L231.19,125.67L231.46,125.79L231.73,125.91L231.99,126.02L232.26,126.13L232.53,126.23L232.79,126.33L233.06,126.41L233.33,126.50L233.59,126.57L233.86,126.64L234.13,126.70L234.39,126.76L234.66,126.81L234.93,126.85L235.19,126.89L235.46,126.92L235.72,126.94L235.99,126.96L236.26,126.97L236.52,126.97L236.79,126.97L237.06,126.96L237.32,126.95L237.59,126.92L237.86,126.89L238.12,126.86L238.39,126.82L238.66,126.77L238.92,126.71L239.19,126.65L239.46,126.58L239.72,126.50L239.99,126.42L240.26,126.33L240.52,126.23L240.79,126.13L241.05,126.02L241.32,125.90L241.59,125.78L241.85,125.65L242.12,125.51L242.39,125.37L242.65,125.21L242.65,148.86L242.92,149.29L243.19,149.73L243.45,150.17L243.72,150.60L243.99,151.04L244.25,151.48L244.52,151.92L244.79,152.35L245.05,152.79L245.32,153.23L245.59,153.67L245.85,154.11L246.12,154.55L246.38,154.99L246.65,155.43L246.92,155.87L247.18,156.31L247.45,156.75L247.72,157.19L247.98,157.63L248.25,158.07L248.52,158.51L248.78,158.96L249.05,159.40L249.32,159.84L249.58,160.28L249.85,160.72L250.12,161.16L250.38,161.60L250.65,162.04L250.92,162.48L251.18,162.92L251.45,163.36L251.71,163.80L251.98,164.24L252.25,164.68L252.51,165.12L252.78,165.56L253.05,166.00L253.31,166.44L253.58,166.88L253.85,167.32L254.11,167.75L254.38,168.19L254.65,168.63L254.65,192.31L254.91,192.16L255.18,192.01L255.45,191.88L255.71,191.75L255.98,191.62L256.25,191.51L256.51,191.40L256.78,191.29L257.04,191.20L257.31,191.11L257.58,191.03L257.84,190.95L258.11,190.88L258.38,190.82L258.64,190.77L258.91,190.72L259.18,190.68L259.44,190.64L259.71,190.61L259.98,190.59L260.24,190.58L260.51,190.57L260.78,190.57L261.04,190.58L261.31,190.59L261.58,190.61L261.84,190.63L262.11,190.67L262.38,190.70L262.64,190.75L262.91,190.80L263.17,190.86L263.44,190.92L263.71,190.99L263.97,191.07L264.24,191.16L264.51,191.25L264.77,191.34L265.04,191.45L265.31,191.56L265.57,191.67L265.84,191.80L266.11,191.92L266.37,192.06L266.64,192.20L266.91,192.35L267.17,192.50L267.44,192.66L267.71,192.83L267.97,193.00L268.24,193.18L268.50,193.36L268.77,193.56L269.04,193.75L269.30,193.96L269.57,194.17L269.84,194.38L270.10,194.60L270.37,194.83L270.64,195.07L270.90,195.31L271.17,195.55L271.44,195.80L271.70,196.06L271.97,196.33L272.24,196.60L272.50,196.87L272.77,197.15L273.04,197.44L273.30,197.74L273.57,198.04L273.83,198.34L274.10,198.65L274.37,198.97L274.63,199.29L274.90,199.62L275.17,199.96L275.43,200.30L275.70,200.64L275.97,201.00L276.23,201.35L276.50,201.70L276.77,202.05L277.03,202.40L277.30,202.75L277.57,203.10L277.83,203.44L278.10,203.78L278.37,204.12L278.63,204.46L278.90,204.80L279.16,205.13L279.43,205.47L279.70,205.80L279.96,206.13L280.23,206.46L280.50,206.78L280.76,207.11L281.03,207.43L281.30,207.75L281.56,208.07L281.83,208.39L282.10,208.70L282.36,209.01L282.63,209.32L282.90,209.63L283.16,209.94L283.43,210.24L283.69,210.55L283.96,210.85L284.23,211.15L284.49,211.44L284.76,211.74L285.03,212.03L285.29,212.32L285.56,212.61L285.83,212.90L286.09,213.18L286.36,213.46L286.63,213.74L286.89,214.02L287.16,214.29L287.43,214.57L287.69,214.84L287.96,215.11L288.23,215.38L288.49,215.64L288.76,215.90L289.02,216.16L289.29,216.42L289.56,216.68L289.82,216.93L290.09,217.18L290.36,217.43L290.62,217.68L290.89,217.92L291.16,218.16L291.42,218.40L291.69,218.64L291.96,218.88L292.22,219.11L292.49,219.34L292.76,219.57L293.02,219.79L293.29,220.02L293.56,220.24L293.82,220.46L294.09,220.67L294.35,220.88L294.62,221.10L294.89,221.30L295.15,221.51L295.42,221.71L295.69,221.92L295.95,222.12L296.22,222.31L296.49,222.51L296.75,222.70L297.02,222.89L297.29,223.07L297.55,223.26L297.82,223.44L298.09,223.62L298.35,223.79L298.62,223.97L298.89,224.14L299.15,224.31L299.42,224.47L299.69,224.64L299.95,224.80L300.22,224.96L300.48,225.11L300.75,225.27L301.02,225.42L301.28,225.56L301.55,225.71L301.82,225.85L302.08,225.99L302.35,226.13L302.62,226.26L302.88,226.40L303.15,226.53L303.42,226.65L303.68,226.78L303.95,226.90L304.22,227.02L304.48,227.13L304.75,227.25L305.01,227.36L305.28,227.47L305.55,227.57L305.81,227.68L306.08,227.78L306.35,227.87L306.61,227.97L306.88,228.06L307.15,228.15L307.41,228.24L307.68,228.32L307.95,228.40L308.21,228.48L308.48,228.56L308.75,228.63L309.01,228.70L309.28,228.77L309.55,228.83L309.81,228.89L310.08,228.95L310.34,229.01L310.61,229.06L310.88,229.12L311.14,229.16L311.41,229.21L311.68,229.25L311.94,229.29L312.21,229.33L312.48,229.36L312.74,229.40L313.01,229.43L313.28,229.45L313.54,229.48L313.81,229.50L314.08,229.51L314.34,229.53L314.61,229.54L314.88,229.55L315.14,229.56L315.41,229.56L315.68,229.56L315.94,229.56L316.21,229.56L316.47,229.55L316.74,229.54L317.01,229.53L317.27,229.51L317.54,229.50L317.81,229.48L318.07,229.45L318.34,229.43L318.61,229.40L318.87,229.36L319.14,229.33L319.41,229.29L319.67,229.25L319.94,229.21L320.21,229.16L320.47,229.12L320.74,229.06L321.00,229.01L321.27,228.95L321.54,228.89L321.80,228.83L322.07,228.77L322.34,228.70L322.60,228.63L322.87,228.56L323.14,228.48L323.40,228.40L323.67,228.32L323.94,228.24L324.20,228.15L324.47,228.06L324.74,227.97L325.00,227.87L325.27,227.78L325.54,227.68L325.80,227.57L326.07,227.47L326.33,227.36L326.60,227.25L326.87,227.13L327.13,227.02L327.40,226.90L327.67,226.78L327.93,226.65L328.20,226.53L328.47,226.40L328.73,226.26L329.00,226.13L329.27,225.99L329.53,225.85L329.80,225.71L330.07,225.56L330.33,225.42L330.60,225.27L330.87,225.11L331.13,224.96L331.40,224.80L331.67,224.64L331.93,224.47L332.20,224.31L332.46,224.14L332.73,223.97L333.00,223.79L333.26,223.62L333.53,223.44L333.80,223.26L334.06,223.07L334.33,222.89L334.60,222.70L334.86,222.51L335.13,222.31L335.40,222.12L335.66,221.92L335.93,221.71L336.20,221.51L336.46,221.30L336.73,221.10L337.00,220.88L337.26,220.67L337.53,220.46L337.79,220.24L338.06,220.02L338.33,219.79L338.59,219.57L338.86,219.34L339.13,219.11L339.39,218.88L339.66,218.64L339.93,218.40L340.19,218.16L340.46,217.92L340.73,217.68L340.99,217.43L341.26,217.18L341.53,216.93L341.79,216.68L342.06,216.42L342.33,216.16L342.59,215.90L342.86,215.64L343.12,215.38L343.39,215.11L343.66,214.84L343.92,214.57L344.19,214.29L344.46,214.02L344.72,213.74L344.99,213.46L345.26,213.18L345.52,212.90L345.79,212.61L346.06,212.32L346.32,212.03L346.59,211.74L346.86,211.44L347.12,211.15L347.39,210.85L347.66,210.55L347.92,210.24L348.19,209.94L348.45,209.63L348.72,209.32L348.99,209.01L349.25,208.70L349.52,208.39L349.79,208.07L350.05,207.75L350.32,207.43L350.59,207.11L350.85,206.78L351.12,206.46L351.39,206.13L351.65,205.80L351.92,205.47L352.19,205.13L352.45,204.80L352.72,204.46L352.99,204.12L353.25,203.78L353.52,203.44L353.78,203.10L354.05,202.75L354.32,202.40L354.58,202.05L354.85,201.70L355.12,201.35L355.38,201.00L355.65,200.64L355.92,200.28L356.18,199.92L356.45,199.56L356.72,199.20L356.98,198.84L357.25,198.47L357.52,198.10L357.78,197.74L358.05,197.37L358.32,196.99L358.58,196.62L358.85,196.25L359.11,195.87L359.38,195.49L359.65,195.11L359.91,194.73L360.18,194.35L360.45,193.97L360.71,193.59L360.98,193.20L361.25,192.81L361.51,192.42L361.78,192.04L362.05,191.64L362.31,191.25L362.58,190.86L362.85,190.46L363.11,190.07L363.38,189.67L363.64,189.27L363.91,188.87L364.18,188.47L364.44,188.07L364.71,187.67L364.98,187.26L365.24,186.86L365.51,186.45L365.78,186.04L366.04,185.64L366.31,185.23L366.58,184.82L366.84,184.41L367.11,183.99L367.38,183.58L367.64,183.16L367.91,182.75L368.18,182.33L368.44,181.92L368.71,181.50L368.97,181.08L369.24,180.66L369.51,180.24L369.77,179.82L370.04,179.40L370.31,178.97L370.57,178.55L370.84,178.12L371.11,177.70L371.37,177.27L371.64,176.85L371.91,176.42L372.17,175.99L372.44,175.56L372.71,175.13L372.97,174.70L373.24,174.27L373.51,173.84L373.77,173.41L374.04,172.98L374.31,172.54L374.57,172.11L374.84,171.68L375.10,171.24L375.37,170.81L375.64,170.37L375.90,169.94L376.17,169.50L376.44,169.06L376.70,168.63L376.97,168.19L377.24,167.75L377.50,167.32L377.77,166.88L378.04,166.44L378.30,166.00L378.57,165.56L378.84,165.12L379.10,164.68L379.37,164.24L379.63,163.80L379.90,163.36L380.17,162.92L380.43,162.48L380.70,162.04L380.97,161.60L381.23,161.16L381.50,160.72L381.77,160.28L382.03,159.84L382.30,159.40L382.57,158.96L382.83,158.51L383.10,158.07L383.37,157.63L383.63,157.19L383.90,156.75L384.17,156.31L384.43,155.87L384.70,155.43L384.97,154.99L385.23,154.55L385.50,154.11L385.76,153.67L386.03,153.23L386.30,152.79L386.56,152.35L386.83,151.92L387.10,151.48L387.36,151.04L387.63,150.60L387.90,150.17L388.16,149.73L388.43,149.29L388.70,148.86L388.96,148.42L389.23,147.98L389.50,147.55L389.76,147.12L390.03,146.68L390.30,146.25L390.56,145.82L390.83,145.38L391.09,144.95L391.36,144.52L391.63,144.09L391.89,143.66L392.16,143.23L392.43,142.80L392.69,142.37L392.96,141.95L393.23,141.52L393.49,141.09L393.76,140.67L394.03,140.24L394.29,139.82L394.56,139.40L394.83,138.98L395.09,138.55L395.36,138.13L395.62,137.71L395.89,137.29L396.16,136.88L396.42,136.46L396.69,136.04L396.96,135.63L397.22,135.21L397.49,134.80L397.76,134.39L398.02,133.98L398.29,133.57L398.56,133.16L398.82,132.75L399.09,132.34L399.36,131.93L399.62,131.53L399.89,131.13L400.16,130.72L400.42,130.32L400.69,129.92L400.96,129.52L401.22,129.12L401.49,128.73L401.75,128.33L402.02,127.93L402.29,127.54L402.55,127.15L402.82,126.76L403.09,126.37L403.35,125.98L403.62,125.59L403.89,125.21L404.15,124.82L404.42,124.44L404.69,124.06L404.95,123.68L405.22,123.30L405.49,122.92L405.75,122.55L406.02,122.17L406.28,121.80L406.55,121.43L406.82,121.06L407.08,120.69L407.35,120.32L407.62,119.96L407.88,119.59L408.15,119.23L408.42,118.87L408.68,118.51L408.95,118.15L409.22,117.80L409.48,117.44L409.75,117.09L410.02,116.74L410.28,116.39L410.55,116.04L410.82,115.70L411.08,115.35L411.35,115.01L411.61,114.67L411.88,114.33L412.15,113.99L412.41,113.66L412.68,113.33L412.95,112.99L413.21,112.66L413.48,112.34L413.75,112.01L414.01,111.69L414.28,111.36L414.55,111.04L414.81,110.72L415.08,110.41L415.35,110.09L415.61,109.78L415.88,109.47L416.15,109.16L416.41,108.85L416.68,108.55L416.94,108.25L417.21,107.95L417.48,107.65L417.74,107.35L418.01,107.06L418.28,106.76L418.54,106.47L418.81,106.18L419.08,105.90L419.34,105.61L419.61,105.33L419.88,105.05L420.14,104.77L420.41,104.50L420.68,104.22L420.94,103.95L421.21,103.68L421.48,103.42L421.74,103.15L422.01,102.89L422.27,102.63L422.54,102.37L422.81,102.12L423.07,101.86L423.34,101.61L423.61,101.36L423.87,101.12L424.14,100.87L424.41,100.63L424.67,100.39L424.94,100.15L425.21,99.92L425.47,99.68L425.74,99.45L426.01,99.23L426.27,99.00L426.54,98.78L426.81,98.56L427.07,98.34L427.34,98.12L427.61,97.91L427.87,97.70L428.14,97.49L428.40,97.28L428.67,97.08L428.94,96.88L429.20,96.68L429.47,96.48L429.74,96.29L430.00,96.10L430.27,95.91L430.54,95.72L430.80,95.54L431.07,95.36L431.34,95.18L431.60,95.00L431.87,94.83L432.14,94.66L432.40,94.49L432.67,94.32L432.94,94.16L433.20,94.00L433.47,93.84L433.73,93.68L434.00,93.53L434.27,93.38L434.53,93.23L434.80,93.08L435.07,92.94L435.33,92.80L435.60,92.66" fill="none" stroke="#ff0000" stroke-width="1.75" stroke-linejoin="round"/>
<rect x="113.4" y="252.2" width="271" height="22.3" fill="#c0c0c0" stroke="#a8a8a8" stroke-width="1"/>
<rect x="122.3" y="260.7" width="4.4" height="4.4" fill="#000"/>
<text x="135" y="268.0" class="lg">RV1 (obs)</text>
<line x1="192.3" y1="262.9" x2="203.4" y2="262.9" stroke="#0000ff" stroke-width="1.6"/>
<text x="208.5" y="268.0" class="lg">RV1 (c)</text>
<circle cx="257.8" cy="262.9" r="2.3" fill="#000"/>
<text x="268" y="268.0" class="lg">RV2 (obs)</text>
<line x1="326.6" y1="262.9" x2="336.7" y2="262.9" stroke="#ff0000" stroke-width="1.6"/>
<text x="342" y="268.0" class="lg">RV2 (c)</text>
<text x="52.5" y="287.10" class="tk" text-anchor="end">-300</text>
<text x="52.5" y="247.30" class="tk" text-anchor="end">-200</text>
<text x="52.5" y="207.50" class="tk" text-anchor="end">-100</text>
<text x="52.5" y="167.70" class="tk" text-anchor="end">0</text>
<text x="52.5" y="127.90" class="tk" text-anchor="end">100</text>
<text x="52.5" y="88.10" class="tk" text-anchor="end">200</text>
<text x="52.5" y="48.30" class="tk" text-anchor="end">300</text>
<text x="62.50" y="305.5" class="tk" text-anchor="middle">-0.2</text>
<text x="115.80" y="305.5" class="tk" text-anchor="middle">0.0</text>
<text x="169.10" y="305.5" class="tk" text-anchor="middle">0.2</text>
<text x="222.40" y="305.5" class="tk" text-anchor="middle">0.4</text>
<text x="275.70" y="305.5" class="tk" text-anchor="middle">0.6</text>
<text x="329.00" y="305.5" class="tk" text-anchor="middle">0.8</text>
<text x="382.30" y="305.5" class="tk" text-anchor="middle">1.0</text>
<text x="435.60" y="305.5" class="tk" text-anchor="middle">1.2</text>
<text x="249.2" y="328.6" class="ax" text-anchor="middle">Phase</text>
<text transform="translate(14.4,161.8) rotate(-90)" class="ayt" text-anchor="middle">Radial Velocity (km/s)</text>
<text x="249.5" y="7.6" class="ti" text-anchor="middle">DS Andromedae</text>
<text x="249.5" y="20.4" class="ti" text-anchor="middle">Model 40b Radial Velocities Fitting</text>
<text x="8.7" y="23.1" class="pa">(a)</text>
<line x1="23.40" y1="457.40" x2="437.60" y2="457.40" stroke="#c9c9c9" stroke-width="1"/>
<line x1="23.40" y1="431.10" x2="437.60" y2="431.10" stroke="#c9c9c9" stroke-width="1"/>
<line x1="23.40" y1="378.50" x2="437.60" y2="378.50" stroke="#c9c9c9" stroke-width="1"/>
<line x1="23.40" y1="352.20" x2="437.60" y2="352.20" stroke="#c9c9c9" stroke-width="1"/>
<line x1="66.44" y1="352.20" x2="66.44" y2="459.20" stroke="#c9c9c9" stroke-width="1"/>
<line x1="107.68" y1="352.20" x2="107.68" y2="459.20" stroke="#c9c9c9" stroke-width="1"/>
<line x1="148.92" y1="352.20" x2="148.92" y2="459.20" stroke="#c9c9c9" stroke-width="1"/>
<line x1="190.16" y1="352.20" x2="190.16" y2="459.20" stroke="#c9c9c9" stroke-width="1"/>
<line x1="231.40" y1="352.20" x2="231.40" y2="459.20" stroke="#c9c9c9" stroke-width="1"/>
<line x1="272.64" y1="352.20" x2="272.64" y2="459.20" stroke="#c9c9c9" stroke-width="1"/>
<line x1="313.88" y1="352.20" x2="313.88" y2="459.20" stroke="#c9c9c9" stroke-width="1"/>
<line x1="355.12" y1="352.20" x2="355.12" y2="459.20" stroke="#c9c9c9" stroke-width="1"/>
<line x1="396.36" y1="352.20" x2="396.36" y2="459.20" stroke="#c9c9c9" stroke-width="1"/>
<line x1="437.60" y1="352.20" x2="437.60" y2="459.20" stroke="#c9c9c9" stroke-width="1"/>
<line x1="23.40" y1="404.80" x2="25.20" y2="404.80" stroke="#c9c9c9" stroke-width="1"/>
<line x1="25.20" y1="404.80" x2="437.60" y2="404.80" stroke="#6a6a6a" stroke-width="1.3"/>
<line x1="25.40" y1="352.20" x2="25.40" y2="459.20" stroke="#3c3c3c" stroke-width="1.1"/>
<rect x="64.50" y="375.60" width="4" height="4" fill="#0000ff"/>
<circle cx="66.50" cy="398.10" r="2.3" fill="#ff0000"/>
<rect x="68.30" y="376.80" width="4" height="4" fill="#0000ff"/>
<circle cx="70.30" cy="394.10" r="2.3" fill="#ff0000"/>
<rect x="82.10" y="385.80" width="4" height="4" fill="#0000ff"/>
<circle cx="84.10" cy="414.80" r="2.3" fill="#ff0000"/>
<rect x="108.20" y="400.90" width="4" height="4" fill="#0000ff"/>
<circle cx="110.20" cy="396.60" r="2.3" fill="#ff0000"/>
<rect x="136.10" y="405.90" width="4" height="4" fill="#0000ff"/>
<circle cx="138.10" cy="385.20" r="2.3" fill="#ff0000"/>
<rect x="155.50" y="444.20" width="4" height="4" fill="#0000ff"/>
<circle cx="157.50" cy="429.30" r="2.3" fill="#ff0000"/>
<rect x="166.10" y="446.00" width="4" height="4" fill="#0000ff"/>
<circle cx="168.10" cy="426.60" r="2.3" fill="#ff0000"/>
<rect x="186.60" y="441.00" width="4" height="4" fill="#0000ff"/>
<circle cx="188.60" cy="409.50" r="2.3" fill="#ff0000"/>
<rect x="310.20" y="386.80" width="4" height="4" fill="#0000ff"/>
<circle cx="312.20" cy="405.00" r="2.3" fill="#ff0000"/>
<rect x="333.20" y="391.20" width="4" height="4" fill="#0000ff"/>
<circle cx="335.20" cy="411.00" r="2.3" fill="#ff0000"/>
<rect x="339.90" y="384.30" width="4" height="4" fill="#0000ff"/>
<circle cx="341.90" cy="402.00" r="2.3" fill="#ff0000"/>
<rect x="344.90" y="389.40" width="4" height="4" fill="#0000ff"/>
<circle cx="346.90" cy="406.10" r="2.3" fill="#ff0000"/>
<rect x="360.40" y="392.80" width="4" height="4" fill="#0000ff"/>
<circle cx="362.40" cy="397.30" r="2.3" fill="#ff0000"/>
<rect x="389.70" y="391.00" width="4" height="4" fill="#0000ff"/>
<circle cx="391.70" cy="397.20" r="2.3" fill="#ff0000"/>
<rect x="374.3" y="443.6" width="54" height="10.8" fill="#c0c0c0" stroke="#a8a8a8" stroke-width="0.8"/>
<rect x="380.9" y="446.9" width="4.2" height="4.2" fill="#0000ff"/>
<text x="388.5" y="451.4" class="rl">RV1</text>
<circle cx="405.9" cy="449" r="2.5" fill="#ff0000"/>
<text x="411" y="451.4" class="rl">RV2</text>
<text x="21.8" y="459.60" class="rt" text-anchor="end">-0.10</text>
<text x="21.8" y="433.30" class="rt" text-anchor="end">-0.05</text>
<text x="21.8" y="407.00" class="rt" text-anchor="end">0.00</text>
<text x="21.8" y="380.70" class="rt" text-anchor="end">0.05</text>
<text x="21.8" y="354.40" class="rt" text-anchor="end">0.10</text>
<text x="25.80" y="467" class="rt" text-anchor="middle">0.00</text>
<text x="108.28" y="467" class="rt" text-anchor="middle">0.20</text>
<text x="190.76" y="467" class="rt" text-anchor="middle">0.40</text>
<text x="273.24" y="467" class="rt" text-anchor="middle">0.60</text>
<text x="355.72" y="467" class="rt" text-anchor="middle">0.80</text>
<text x="438.20" y="467" class="rt" text-anchor="middle">1.00</text>
<text x="231.4" y="475.8" class="rax" text-anchor="middle">Phase</text>
<text transform="translate(4.9,403.5) rotate(-90)" class="ray" text-anchor="middle">residual (100 km/s)</text>
</svg>
</body></html>
